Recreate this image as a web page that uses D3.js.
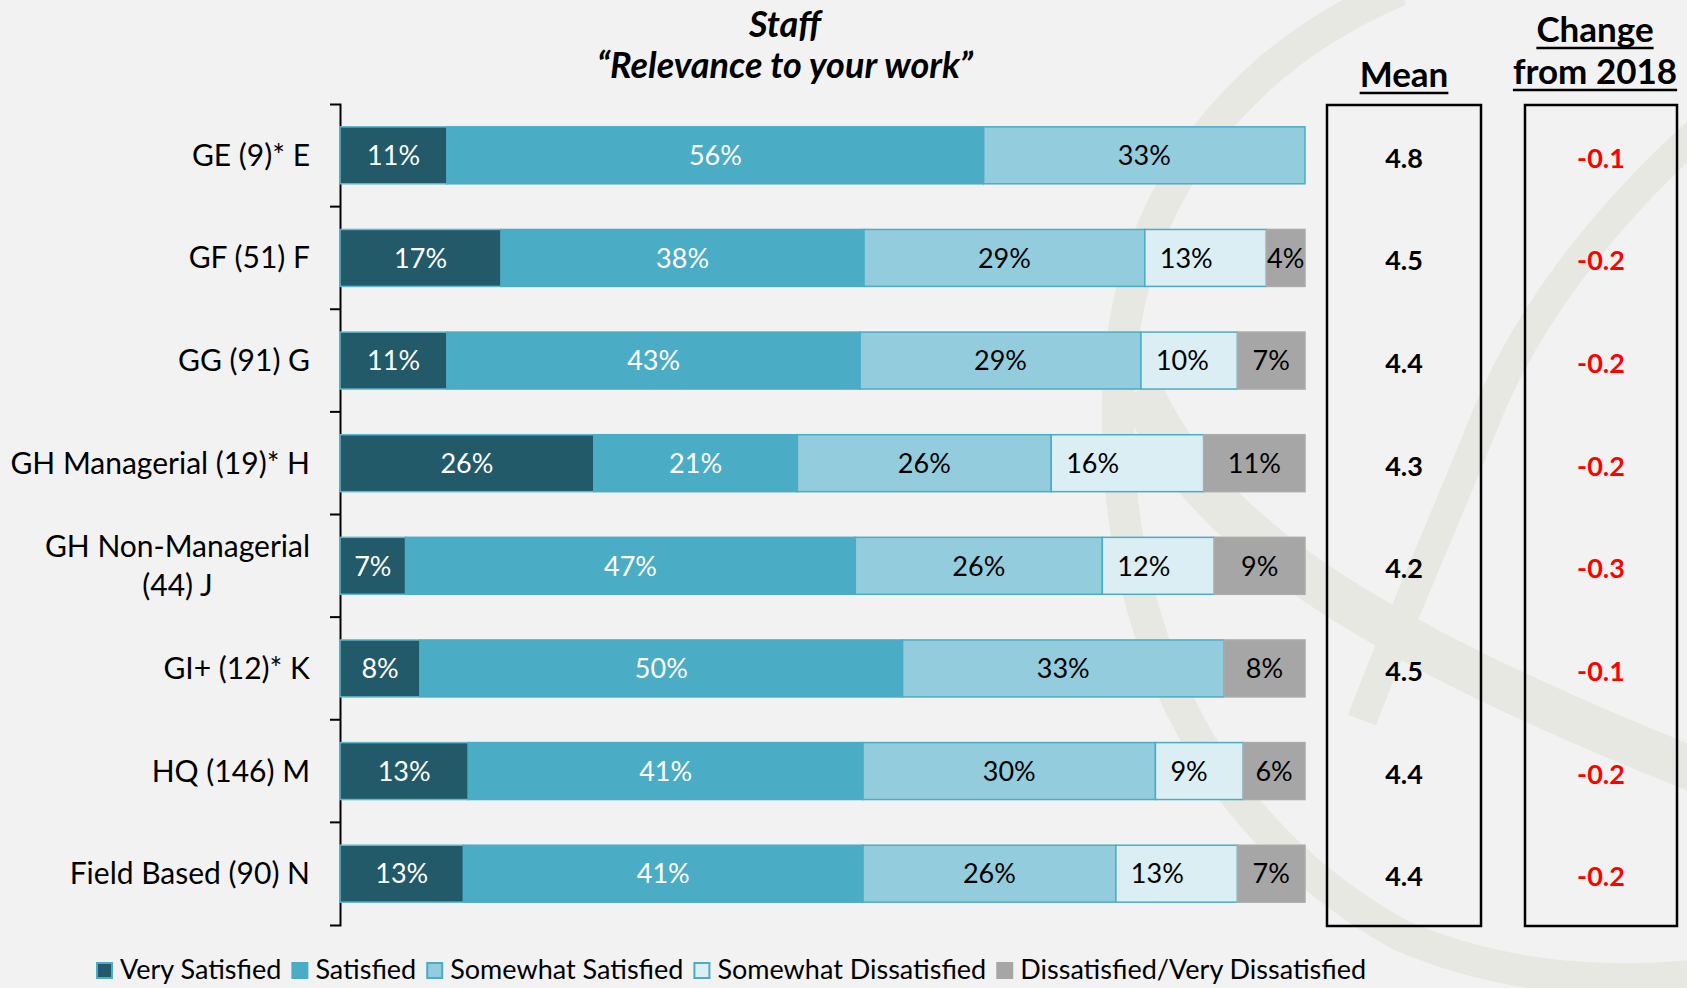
<!DOCTYPE html>
<html><head><meta charset="utf-8">
<script src="https://cdn.jsdelivr.net/npm/d3@7"></script>
<style>
body{margin:0;background:#F2F2F2;}
svg{display:block;font-family:Lato,'Open Sans',sans-serif;}
</style>
</head><body>
<svg id="chart" width="1687" height="988"></svg>
<script>
// ---- data ----
const categories = ["GE (9)* E","GF (51) F","GG (91) G","GH Managerial (19)* H","GH Non-Managerial\n(44) J","GI+ (12)* K","HQ (146) M","Field Based (90) N"];
const seriesNames = ["Very Satisfied","Satisfied","Somewhat Satisfied","Somewhat Dissatisfied","Dissatisfied/Very Dissatisfied"];
const verySatisfied        = [11.1,16.7,11.1,26.3, 6.8, 8.3,13.3,12.8];
const satisfied            = [55.6,37.6,42.8,21.1,46.6,50.0,40.9,41.4];
const somewhatSatisfied    = [33.3,29.1,29.1,26.3,25.6,33.3,30.3,26.2];
const somewhatDissatisfied = [ 0.0,12.6,10.0,15.8,11.6, 0.0, 9.1,12.6];
const dissatisfied         = [ 0.0, 4.0, 7.0,10.5, 9.4, 8.4, 6.4, 7.0];
const means   = ["4.8","4.5","4.4","4.3","4.2","4.5","4.4","4.4"];
const changes = ["-0.1","-0.2","-0.2","-0.2","-0.3","-0.1","-0.2","-0.2"];
const titleLines = ["Staff","\u201CRelevance to your work\u201D"];
const meanHeader = ["Mean"];
const changeHeader = ["Change","from 2018"];

// ---- styles ----
const colors = ["#225A69","#4BACC6","#93CDDD","#DAEEF3","#A6A6A6"];
const strokes = ["#5DB8D0","#4BACC6","#4BACC6","#4BACC6","#ABABAB"];
const textColors = ["#FFFFFF","#FFFFFF","#000000","#000000","#000000"];

const svg = d3.select("#chart");

// background watermark (decorative)
const wm = svg.append("g").attr("fill","none").attr("stroke","#E8E8E3").attr("stroke-linecap","butt");
wm.append("path").attr("stroke-width",32)
  .attr("d","M1400,-10 C1235,60 1122,200 1118,400 C1114,620 1195,820 1400,935 C1500,978 1600,985 1700,975");
wm.append("path").attr("stroke-width",44)
  .attr("d","M1140,390 C1200,520 1330,625 1700,772");
wm.append("path").attr("stroke-width",30)
  .attr("d","M1700,130 C1600,220 1525,320 1485,420 C1445,520 1400,620 1362,720");

// scales
const rows = categories.map((c,i)=>({cat:c, v0:verySatisfied[i], v1:satisfied[i], v2:somewhatSatisfied[i], v3:somewhatDissatisfied[i], v4:dissatisfied[i]}));
const keys = ["v0","v1","v2","v3","v4"];
const stacked = d3.stack().keys(keys)(rows);

const x = d3.scaleLinear().domain([0,100]).range([340,1305]);
const y = d3.scaleBand().domain(categories).range([104,925]).paddingInner(0.445).paddingOuter(0.2225);

// axis
const axis = d3.axisLeft(y).tickValues([]).tickSizeOuter(10);
const ax = svg.append("g").attr("transform","translate(340,0)").call(axis);
ax.select(".domain").attr("stroke","#000").attr("stroke-width",2);
const boundaries = categories.slice(1).map(c => y(c) - y.step()*y.paddingInner()/2);
ax.selectAll("line.b").data(boundaries).enter().append("line")
  .attr("x1",-10).attr("x2",0).attr("y1",d=>d).attr("y2",d=>d)
  .attr("stroke","#000").attr("stroke-width",2);

// category labels
categories.forEach(c=>{
  const lines = c.split("\n");
  const cy = y(c) + y.bandwidth()/2;
  const t = svg.append("text").attr("font-size",30).attr("fill","#000").attr("text-anchor","middle");
  lines.forEach((ln,k)=>{
    t.append("tspan").attr("x",0).attr("y", cy + (k-(lines.length-1)/2)*39).attr("dy","0.35em").text(ln);
  });
  const w = t.node().getBBox().width;
  t.selectAll("tspan").attr("x", 310 - w/2);
});

// bars
const layers = svg.selectAll("g.layer").data(stacked).enter().append("g").attr("class","layer");
layers.each(function(s,si){
  const g = d3.select(this);
  const data = s.filter(d=>d[1]-d[0]>0);
  g.selectAll("rect").data(data).enter().append("rect")
    .attr("x",d=>x(d[0])).attr("width",d=>x(d[1])-x(d[0]))
    .attr("y",d=>y(d.data.cat)).attr("height",y.bandwidth())
    .attr("fill",colors[si]).attr("stroke",strokes[si]).attr("stroke-width",1.5);
  g.selectAll("text").data(data).enter().append("text")
    .attr("x",d=> si===3 ? x(d[0])+15 : (x(d[0])+x(d[1]))/2)
    .attr("y",d=>y(d.data.cat)+y.bandwidth()/2)
    .attr("dy","0.36em").attr("text-anchor", si===3 ? "start" : "middle").attr("font-size",27)
    .attr("fill",textColors[si]).text(d=>Math.round(d[1]-d[0])+"%");
});

// title
svg.selectAll("text.title").data(titleLines).enter().append("text").attr("class","title")
  .attr("x",785).attr("y",(d,i)=>[37,78][i]).attr("text-anchor","middle")
  .attr("font-size",36).attr("font-weight","bold").attr("font-style","italic").text(d=>d);

// header helper
function header(lines, cx, baselines){
  lines.forEach((ln,i)=>{
    const t = svg.append("text").attr("x",cx).attr("y",baselines[i]).attr("text-anchor","middle")
      .attr("font-size",35).attr("font-weight","bold").text(ln);
    const bb = t.node().getBBox();
    svg.append("line").attr("x1",bb.x).attr("x2",bb.x+bb.width).attr("y1",baselines[i]+6).attr("y2",baselines[i]+6)
      .attr("stroke","#000").attr("stroke-width",2.5);
  });
}
header(meanHeader, 1404, [87]);
header(changeHeader, 1595, [42,84]);

// boxes
svg.append("rect").attr("x",1327).attr("y",105).attr("width",154).attr("height",821).attr("fill","none").attr("stroke","#000").attr("stroke-width",2.5);
svg.append("rect").attr("x",1525).attr("y",105).attr("width",152).attr("height",821).attr("fill","none").attr("stroke","#000").attr("stroke-width",2.5);

svg.selectAll("text.mean").data(means).enter().append("text").attr("class","mean")
  .attr("x",1404).attr("y",(d,i)=>y(categories[i])+y.bandwidth()/2+3).attr("dy","0.35em")
  .attr("text-anchor","middle").attr("font-size",27).attr("font-weight","bold").attr("fill","#000").text(d=>d);
svg.selectAll("text.chg").data(changes).enter().append("text").attr("class","chg")
  .attr("x",1601).attr("y",(d,i)=>y(categories[i])+y.bandwidth()/2+3).attr("dy","0.35em")
  .attr("text-anchor","middle").attr("font-size",27).attr("font-weight","bold").attr("fill","#FF0000").text(d=>d);

// legend
const leg = svg.append("g");
let lx = 96;
seriesNames.forEach((n,i)=>{
  leg.append("rect").attr("x",lx+1).attr("y",963).attr("width",15).attr("height",15)
    .attr("fill",colors[i]).attr("stroke", i<4 ? "#4BACC6" : "#A6A6A6").attr("stroke-width",2);
  const t = leg.append("text").attr("x",lx+24).attr("y",979).attr("font-size",27).attr("fill","#000").text(n);
  lx = lx + 24 + t.node().getComputedTextLength() + 10;
});
</script>
</body></html>
